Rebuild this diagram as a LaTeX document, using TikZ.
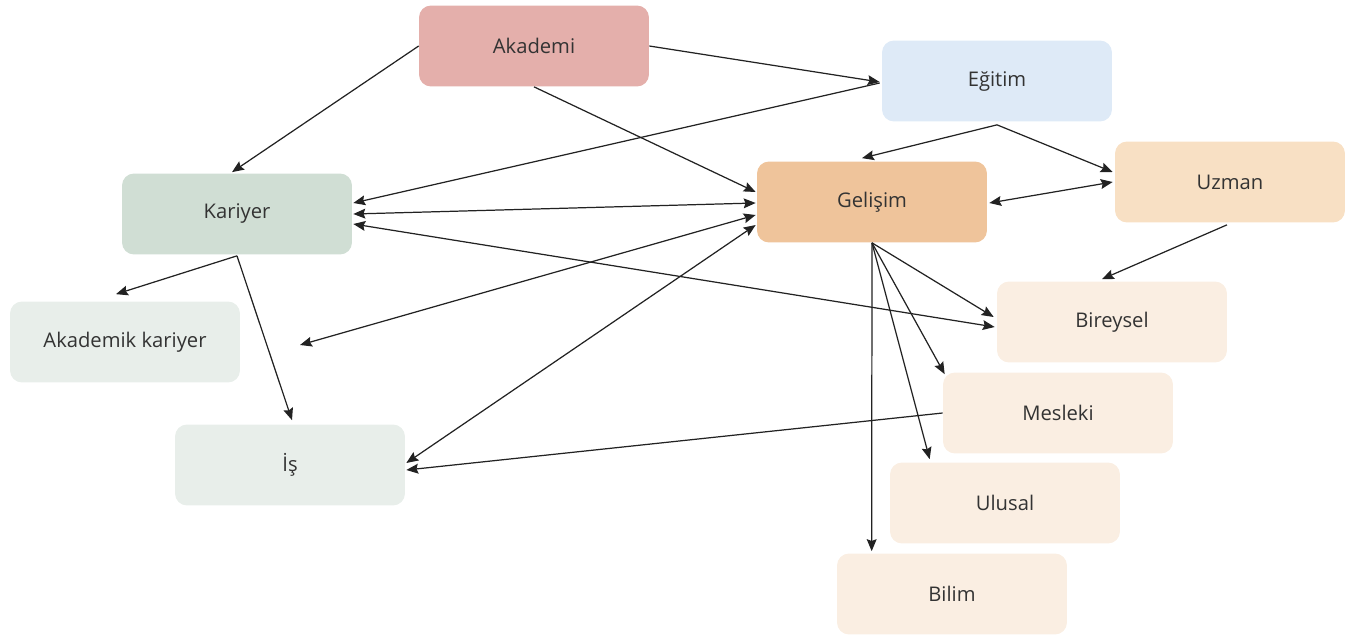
\documentclass[tikz,border=0pt]{standalone}
\usepackage{fontspec}
\setmainfont{Open Sans}
\usetikzlibrary{arrows.meta,calc}
\definecolor{cAka}{HTML}{E4AFAB}
\definecolor{cEgi}{HTML}{DEEAF7}
\definecolor{cKar}{HTML}{D0DED4}
\definecolor{cGel}{HTML}{EFC49B}
\definecolor{cUzm}{HTML}{F8E0C4}
\definecolor{cGry}{HTML}{E8EEEA}
\definecolor{cCrm}{HTML}{FAEEE2}
\definecolor{cTxt}{HTML}{333333}
\definecolor{cLn}{HTML}{222222}
\tikzset{
  box/.style={rounded corners=0.24cm, minimum width=4.6cm, minimum height=1.62cm,
    inner sep=0pt, text=cTxt, font=\fontsize{11.5}{14}\selectfont},
  conn/.style={draw=cLn, line width=0.7pt, -{Stealth[length=6.8pt,width=5.6pt,inset=1pt]}},
  dconn/.style={draw=cLn, line width=0.7pt, {Stealth[length=6.8pt,width=5.6pt,inset=1pt]}-{Stealth[length=6.8pt,width=5.6pt,inset=1pt]}},
}
\begin{document}
\begin{tikzpicture}[x=0.02cm,y=-0.02cm]
\useasboundingbox (0,0) rectangle (1347,639);
\node[box,fill=cAka] (aka) at (534,46) {Akademi};
\node[box,fill=cEgi] (egi) at (997,81) {Eğitim};
\node[box,fill=cKar] (kar) at (237,214) {Kariyer};
\node[box,fill=cGel] (gel) at (872,202) {Gelişim};
\node[box,fill=cUzm] (uzm) at (1230,182) {Uzman};
\node[box,fill=cGry] (ak) at (125,342) {Akademik kariyer};
\node[box,fill=cCrm] (bir) at (1112,322) {Bireysel};
\node[box,fill=cCrm] (mes) at (1058,413) {Mesleki};
\node[box,fill=cGry] (is) at (290,465) {İş};
\node[box,fill=cCrm] (ulu) at (1005,503) {Ulusal};
\node[box,fill=cCrm] (bil) at (952,594) {Bilim};
\coordinate (free) at (300,345);

\draw[conn] (aka.west) -- ($(kar.north)+(-5,-1)$);
\draw[conn] (aka.east) -- ($(egi.west)+(-2,1)$);
\draw[conn] (aka.south) -- ($(gel.west)+(-1,-10)$);
\draw[conn] ($(egi.west)+(-2,2)$) -- ($(kar.east)+(1,-11)$);
\draw[conn] ($(egi.south)+(0,3)$) -- ($(gel.north)+(-10,-3)$);
\draw[conn] ($(egi.south)+(0,3)$) -- ($(uzm.west)+(-2,-10)$);
\draw[dconn] ($(kar.east)+(1,0)$) -- ($(gel.west)+(-1,1)$);
\draw[dconn] (free) -- ($(gel.west)+(-1,13)$);
\draw[dconn] ($(is.east)+(1,-2)$) -- ($(gel.west)+(-1,23)$);
\draw[dconn] ($(kar.east)+(1,10)$) -- ($(bir.west)+(-2,5)$);
\draw[dconn] ($(gel.east)+(2,1)$) -- ($(uzm.west)+(-2,0)$);
\draw[conn] ($(kar.south)+(0,1)$) -- ($(ak.north)+(-9,-7)$);
\draw[conn] ($(kar.south)+(0,1)$) -- ($(is.north)+(2,-4)$);
\draw[conn] ($(uzm.south)+(-3,2)$) -- ($(bir.north)+(-10,-2)$);
\draw[conn] (gel.south) -- ($(bir.west)+(-3,-5)$);
\draw[conn] (gel.south) -- ($(mes.north west)+(2,2)$);
\draw[conn] (gel.south) -- ($(ulu.north west)+(40,-3)$);
\draw[conn] (gel.south) -- ($(bil.north west)+(35,-2)$);
\draw[conn] (mes.west) -- ($(is.east)+(1,5)$);
\end{tikzpicture}
\end{document}
